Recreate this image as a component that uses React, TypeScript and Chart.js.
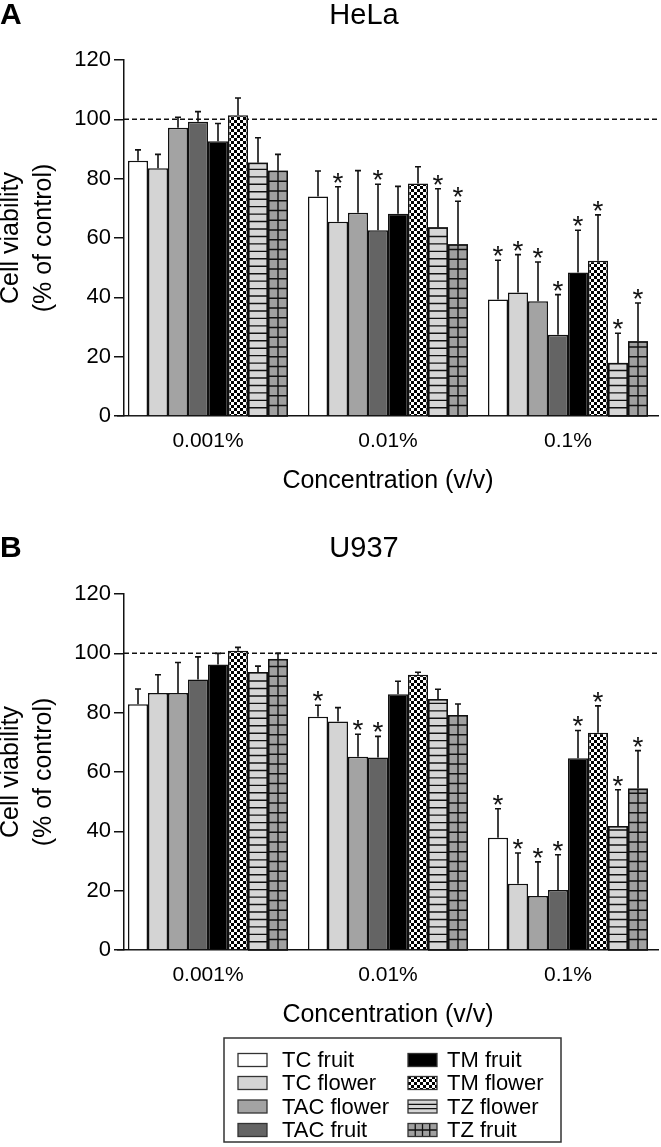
import React, { useEffect, useRef } from 'react';
import { Chart, registerables } from 'chart.js';

Chart.register(...registerables);

const categories = ['0.001%', '0.01%', '0.1%'];
const seriesNames = ['TC fruit', 'TC flower', 'TAC flower', 'TAC fruit', 'TM fruit', 'TM flower', 'TZ flower', 'TZ fruit'];
const yTicks = [0, 20, 40, 60, 80, 100, 120];

// HeLa: rows = series (seriesNames order), columns = categories
const helaMeans = [
  [86.0, 74.0, 39.3],
  [83.5, 65.5, 41.6],
  [97.2, 68.5, 38.7],
  [99.2, 62.6, 27.4],
  [92.6, 68.2, 48.4],
  [101.4, 78.4, 52.3],
  [85.4, 63.6, 17.9],
  [82.7, 57.9, 25.2],
];
const helaErrors = [
  [3.7, 8.6, 13.2],
  [4.7, 11.8, 12.8],
  [3.5, 14.2, 13.2],
  [3.4, 15.5, 13.5],
  [6.0, 9.2, 14.2],
  [5.8, 5.6, 15.5],
  [8.4, 13.0, 10.0],
  [5.5, 14.5, 12.9],
];
const helaStars = [
  [false, false, true],
  [false, true, true],
  [false, false, true],
  [false, true, true],
  [false, false, true],
  [false, false, true],
  [false, true, true],
  [false, true, true],
];

// U937
const u937Means = [
  [82.8, 78.6, 37.8],
  [86.6, 77.0, 22.3],
  [86.6, 65.1, 18.2],
  [91.2, 64.9, 20.2],
  [96.2, 86.2, 64.6],
  [100.9, 92.8, 73.2],
  [93.7, 84.6, 41.8],
  [98.1, 79.2, 54.4],
];
const u937Errors = [
  [5.2, 3.9, 9.8],
  [6.2, 4.7, 10.4],
  [10.3, 7.6, 11.5],
  [7.6, 7.1, 11.9],
  [3.8, 4.4, 9.4],
  [1.1, 0.8, 9.1],
  [2.0, 3.3, 12.2],
  [1.9, 3.7, 12.8],
];
const u937Stars = [
  [false, true, true],
  [false, false, true],
  [false, true, true],
  [false, true, true],
  [false, false, true],
  [false, false, true],
  [false, false, true],
  [false, false, true],
];

const FONT = '"Liberation Sans", Arial, Helvetica, sans-serif';
const INK = '#111';
const fillColors = ['#ffffff', '#d4d4d4', '#a3a3a3', '#646464', '#000000', 'CHECKER', '#d6d6d6', '#a0a0a0'];
const hatchKinds = ['', '', '', '', '', '', 'stripes', 'grid'];

function makeChecker(ctx: CanvasRenderingContext2D) {
  const c = document.createElement('canvas');
  c.width = 6;
  c.height = 6;
  const g = c.getContext('2d')!;
  g.fillStyle = '#fff';
  g.fillRect(0, 0, 6, 6);
  g.fillStyle = '#000';
  g.fillRect(0, 0, 3, 3);
  g.fillRect(3, 3, 3, 3);
  return ctx.createPattern(c, 'repeat')!;
}

function drawBarHatch(ctx: CanvasRenderingContext2D, kind: string, left: number, top: number, w: number, h: number) {
  if (!kind || h <= 0) return;
  ctx.save();
  ctx.beginPath();
  ctx.rect(left, top, w, h);
  ctx.clip();
  ctx.strokeStyle = INK;
  ctx.lineWidth = 1.4;
  const step = kind === 'stripes' ? 7.45 : 9.75;
  ctx.beginPath();
  for (let y = top + h - step; y > top + 1; y -= step) {
    ctx.moveTo(left, y);
    ctx.lineTo(left + w, y);
  }
  if (kind === 'grid') {
    ctx.moveTo(left + w / 2, top);
    ctx.lineTo(left + w / 2, top + h);
  }
  ctx.stroke();
  ctx.restore();
}

function buildChart(
  canvas: HTMLCanvasElement,
  means: number[][],
  errors: number[][],
  stars: boolean[][],
  letter: string,
  title: string,
  layout: { top: number; bottom: number; titleY: number },
  withLegend: boolean,
) {
  const ctx0 = canvas.getContext('2d')!;
  const checker = makeChecker(ctx0);
  const bgs = fillColors.map((c) => (c === 'CHECKER' ? checker : c));

  const decor = {
    id: 'decor' + letter,
    afterLayout(chart: any) {
      // groups sit slightly left of the y axis start (as in the original plot)
      const xs = chart.scales.x;
      xs.left = chart.chartArea.left - 6;
      xs.width = xs.right - xs.left;
      xs.configure();
    },
    beforeDatasetsDraw(chart: any) {
      const ctx = chart.ctx;
      const ys = chart.scales.y;
      const a = chart.chartArea;
      const y100 = ys.getPixelForValue(100);
      ctx.save();
      ctx.strokeStyle = INK;
      ctx.lineWidth = 1.5;
      ctx.setLineDash([5, 3]);
      ctx.beginPath();
      ctx.moveTo(a.left, y100);
      ctx.lineTo(a.right, y100);
      ctx.stroke();
      ctx.restore();
    },
    afterDatasetsDraw(chart: any) {
      const ctx = chart.ctx;
      const ys = chart.scales.y;
      chart.data.datasets.forEach((ds: any, di: number) => {
        const meta = chart.getDatasetMeta(di);
        meta.data.forEach((bar: any) => {
          const p = bar.getProps(['x', 'y', 'base', 'width'], true);
          const left = p.x - p.width / 2;
          drawBarHatch(ctx, hatchKinds[di], left + 0.75, p.y + 0.75, p.width - 1.5, p.base - p.y - 0.75);
          if (hatchKinds[di]) {
            ctx.save();
            ctx.strokeStyle = INK;
            ctx.lineWidth = 1.5;
            ctx.strokeRect(left + 0.75, p.y + 0.75, p.width - 1.5, p.base - p.y);
            ctx.restore();
          }
        });
      });
      // error bars and significance stars
      chart.data.datasets.forEach((ds: any, di: number) => {
        const meta = chart.getDatasetMeta(di);
        meta.data.forEach((bar: any, i: number) => {
          const p = bar.getProps(['x', 'y'], true);
          const v = means[di][i];
          const e = errors[di][i];
          const yTop = ys.getPixelForValue(v + e);
          ctx.save();
          ctx.strokeStyle = INK;
          ctx.lineWidth = 1.6;
          ctx.beginPath();
          ctx.moveTo(p.x, p.y);
          ctx.lineTo(p.x, yTop);
          ctx.moveTo(p.x - 3, yTop);
          ctx.lineTo(p.x + 3, yTop);
          ctx.stroke();
          if (stars[di][i]) {
            ctx.fillStyle = INK;
            ctx.font = `28px ${FONT}`;
            ctx.textAlign = 'center';
            ctx.textBaseline = 'alphabetic';
            ctx.fillText('*', p.x, yTop + 5);
          }
          ctx.restore();
        });
      });
    },
    afterDraw(chart: any) {
      const ctx = chart.ctx;
      ctx.save();
      ctx.fillStyle = '#000';
      ctx.font = `bold 30px ${FONT}`;
      ctx.textAlign = 'left';
      ctx.textBaseline = 'middle';
      ctx.fillText(letter, 0, layout.titleY);
      ctx.font = `29px ${FONT}`;
      ctx.textAlign = 'center';
      ctx.fillText(title, 364, layout.titleY);
      ctx.restore();

      if (withLegend) {
        const boxL = 224, boxT = 538, boxR = 561, boxB = 642;
        ctx.save();
        ctx.strokeStyle = '#333';
        ctx.lineWidth = 1.5;
        ctx.strokeRect(boxL, boxT, boxR - boxL, boxB - boxT);
        const rows = [560, 583, 606.5, 630];
        const cols = [
          { sx: 238, tx: 282 },
          { sx: 408, tx: 447 },
        ];
        seriesNames.forEach((name, k) => {
          const col = cols[Math.floor(k / 4)];
          const ry = rows[k % 4];
          const sw = 29, sh = 13;
          const sy = ry - sh / 2;
          ctx.fillStyle = bgs[k];
          ctx.fillRect(col.sx, sy, sw, sh);
          if (hatchKinds[k] === 'stripes') {
            ctx.strokeStyle = INK;
            ctx.lineWidth = 1.3;
            ctx.beginPath();
            ctx.moveTo(col.sx, sy + sh / 3);
            ctx.lineTo(col.sx + sw, sy + sh / 3);
            ctx.moveTo(col.sx, sy + (2 * sh) / 3);
            ctx.lineTo(col.sx + sw, sy + (2 * sh) / 3);
            ctx.stroke();
          } else if (hatchKinds[k] === 'grid') {
            ctx.strokeStyle = INK;
            ctx.lineWidth = 1.3;
            ctx.beginPath();
            ctx.moveTo(col.sx, sy + sh / 2);
            ctx.lineTo(col.sx + sw, sy + sh / 2);
            for (let q = 1; q < 4; q++) {
              ctx.moveTo(col.sx + (q * sw) / 4, sy);
              ctx.lineTo(col.sx + (q * sw) / 4, sy + sh);
            }
            ctx.stroke();
          }
          ctx.strokeStyle = '#333';
          ctx.lineWidth = 1.3;
          ctx.strokeRect(col.sx, sy, sw, sh);
          ctx.fillStyle = '#000';
          ctx.font = `22px ${FONT}`;
          ctx.textAlign = 'left';
          ctx.textBaseline = 'middle';
          ctx.fillText(name, col.tx, ry + 1);
        });
        ctx.restore();
      }
    },
  };

  return new Chart(canvas, {
    type: 'bar',
    data: {
      labels: categories,
      datasets: seriesNames.map((name, k) => ({
        label: name,
        data: means[k],
        backgroundColor: bgs[k],
        borderColor: INK,
        borderWidth: 1.5,
        categoryPercentage: 160 / 180,
        barPercentage: 1,
      })),
    },
    options: {
      responsive: false,
      animation: false,
      devicePixelRatio: 1,
      events: [],
      layout: { padding: { left: 0, right: 3, top: layout.top, bottom: layout.bottom } },
      plugins: {
        legend: { display: false },
        tooltip: { enabled: false },
        title: { display: false },
      },
      scales: {
        x: {
          type: 'category',
          offset: true,
          grid: { display: false },
          border: { display: true, color: INK, width: 1.5 },
          ticks: { color: '#000', padding: 5, font: { family: FONT, size: 21 } },
          title: {
            display: true,
            text: 'Concentration (v/v)',
            color: '#000',
            font: { family: FONT, size: 25, lineHeight: 1.2 },
            padding: { top: 0, bottom: 0 },
          },
          afterFit: (s: any) => {
            s.height = 80;
          },
        },
        y: {
          min: 0,
          max: 120,
          afterBuildTicks: (s: any) => {
            s.ticks = yTicks.map((v) => ({ value: v }));
          },
          grid: {
            display: true,
            drawOnChartArea: false,
            drawTicks: true,
            tickLength: 10,
            color: INK,
            lineWidth: 1.5,
          },
          border: { display: true, color: INK, width: 1.5 },
          ticks: { color: '#000', padding: 3, font: { family: FONT, size: 22 } },
          title: {
            display: true,
            text: ['Cell viability', '(% of control)'],
            color: '#000',
            font: { family: FONT, size: 25, lineHeight: 1.3 },
            padding: { top: -5, bottom: 0 },
          },
          afterFit: (s: any) => {
            s.width = 124;
          },
        },
      },
    } as any,
    plugins: [decor as any],
  });
}

export default function App() {
  const refA = useRef<HTMLCanvasElement>(null);
  const refB = useRef<HTMLCanvasElement>(null);

  useEffect(() => {
    const a = buildChart(refA.current!, helaMeans, helaErrors, helaStars, 'A', 'HeLa', { top: 60, bottom: 4, titleY: 16 }, false);
    const b = buildChart(refB.current!, u937Means, u937Errors, u937Stars, 'B', 'U937', { top: 94, bottom: 117, titleY: 49 }, true);
    return () => {
      a.destroy();
      b.destroy();
    };
  }, []);

  return (
    <div style={{ position: 'absolute', left: 0, top: 0, width: 661, height: 1147, background: '#fff' }}>
      <canvas ref={refA} width={661} height={500} style={{ position: 'absolute', left: 0, top: 0, width: 661, height: 500 }} />
      <canvas ref={refB} width={661} height={647} style={{ position: 'absolute', left: 0, top: 500, width: 661, height: 647 }} />
    </div>
  );
}
